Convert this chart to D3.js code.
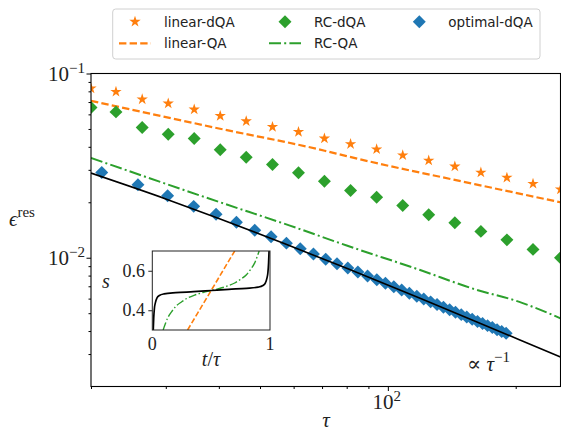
<!DOCTYPE html>
<html>
<head>
<meta charset="utf-8">
<script src="https://cdn.jsdelivr.net/npm/d3@7"></script>
<style>
  body { margin: 0; background: #fff; }
  svg { display: block; }
</style>
</head>
<body>
<div id="chart"></div>
<script>
// residual error vs annealing time, log-log, with a schedule inset

const tauDQA = [20, 22.9, 26.4, 30.4, 35.0, 40.3, 46.4, 53.5, 61.6, 70.9, 81.7, 94.1, 108.4, 124.8, 143.8, 165.6, 190.7, 219.7, 255];
const linearDQA = [0.0830, 0.0796, 0.0724, 0.0688, 0.0638, 0.0589, 0.0551, 0.0513, 0.0482, 0.0444, 0.0414, 0.0388, 0.0360, 0.0337, 0.0313, 0.0290, 0.0272, 0.0252, 0.0235];
const rcDQA = [0.0654, 0.0619, 0.0509, 0.0468, 0.0444, 0.0386, 0.0351, 0.0321, 0.0289, 0.0260, 0.0232, 0.0213, 0.0192, 0.0171, 0.0155, 0.0139, 0.0125, 0.0111, 0.0100];

const tauOpt = [21.2, 25.8, 30.3, 34.9, 39.4, 44.0, 48.6, 53.1, 57.7, 62.2, 66.8, 71.4, 75.9, 80.5, 85.0, 89.6, 94.2, 98.7, 103.3, 107.8,
  112.4, 117.0, 121.5, 126.1, 130.6, 135.2, 139.8, 144.3, 148.9, 153.4, 158.0, 162.6, 167.1, 171.7, 176.2, 180.8, 185.4, 189.9];
const optimalDQA = [0.0290, 0.0249, 0.0217, 0.0190, 0.0172, 0.0156, 0.0141, 0.0130, 0.0120, 0.0112, 0.01047, 0.00982, 0.00928, 0.00879,
  0.00836, 0.00795, 0.00759, 0.00726, 0.00696, 0.00668, 0.00642, 0.00618, 0.00597, 0.00576, 0.00557, 0.00539, 0.00522, 0.00506,
  0.00491, 0.00477, 0.00464, 0.00451, 0.00440, 0.00428, 0.00418, 0.00407, 0.00398, 0.00389];

const tauQA = [20, 40, 71, 80, 160, 255];
const linearQA = [0.0711, 0.0503, 0.0381, 0.0356, 0.0251, 0.0200];
const tauRC = [20, 40, 58.8, 80, 118.7, 160, 204, 255];
const rcQA = [0.0348, 0.0201, 0.01494, 0.01165, 0.0086, 0.00675, 0.00576, 0.00469];
const tauFit = [20, 30, 40, 57.2, 80, 118.7, 160, 204, 255];
const fitLine = [0.0288, 0.02086, 0.01634, 0.0119, 0.00876, 0.00604, 0.00454, 0.00359, 0.00289];

// inset: schedules s(t/tau)
const linSched = [[0.3, 0.3], [0.7, 0.7]];
const rcSched = [[0.092, 0.30], [0.11, 0.33], [0.13, 0.36], [0.165, 0.393], [0.2, 0.42], [0.25, 0.443], [0.3, 0.462], [0.36, 0.477],
  [0.43, 0.49], [0.5, 0.5], [0.57, 0.51], [0.64, 0.523], [0.7, 0.538], [0.75, 0.557], [0.8, 0.58], [0.835, 0.607], [0.87, 0.64],
  [0.89, 0.67], [0.908, 0.70]];
const optSched = [[0.008, 0.30], [0.012, 0.36], [0.018, 0.41], [0.027, 0.44], [0.04, 0.463], [0.06, 0.475], [0.1, 0.483], [0.2, 0.489],
  [0.35, 0.494], [0.5, 0.5], [0.65, 0.506], [0.8, 0.511], [0.9, 0.517], [0.94, 0.525], [0.96, 0.537], [0.973, 0.56], [0.982, 0.59],
  [0.988, 0.64], [0.992, 0.70]];

const orange = "#ff7f0e", green = "#2ca02c", blue = "#1f77b4";
const serif = "'Liberation Serif', 'DejaVu Serif', serif";
const sans = "'DejaVu Sans', sans-serif";

const W = 561, H = 433;
const svg = d3.select("#chart").append("svg").attr("width", W).attr("height", H);

const x = d3.scaleLog().domain([20, 255]).range([91, 560.5]);
const y = d3.scaleLog().domain([0.002, 0.1]).range([386.5, 73.5]);

svg.append("clipPath").attr("id", "plot")
  .append("rect").attr("x", 91).attr("y", 73.5).attr("width", 469.5).attr("height", 313);

const plot = svg.append("g").attr("clip-path", "url(#plot)");

const line = d3.line().x((d) => x(d[0])).y((d) => y(d[1])).curve(d3.curveMonotoneX);
const zip = (a, b) => a.map((v, i) => [v, b[i]]);

const star = d3.symbol().type(d3.symbolStar).size(40);
const diamond = d3.symbol().type(d3.symbolSquare).size(84);

// linear-dQA
plot.append("g").selectAll("path").data(zip(tauDQA, linearDQA)).join("path")
  .attr("d", star).attr("fill", orange)
  .attr("transform", (d) => `translate(${x(d[0])},${y(d[1])})`);
// linear-QA
plot.append("path").attr("d", line(zip(tauQA, linearQA)))
  .attr("fill", "none").attr("stroke", orange).attr("stroke-width", 2.2).attr("stroke-dasharray", "7.4,3.2");
// RC-dQA
plot.append("g").selectAll("path").data(zip(tauDQA, rcDQA)).join("path")
  .attr("d", diamond).attr("fill", green)
  .attr("transform", (d) => `translate(${x(d[0])},${y(d[1])}) rotate(45)`);
// RC-QA
plot.append("path").attr("d", line(zip(tauRC, rcQA)))
  .attr("fill", "none").attr("stroke", green).attr("stroke-width", 2).attr("stroke-dasharray", "12,3.2,2,3.2");
// optimal-dQA
plot.append("g").selectAll("path").data(zip(tauOpt, optimalDQA)).join("path")
  .attr("d", diamond).attr("fill", blue)
  .attr("transform", (d) => `translate(${x(d[0])},${y(d[1])}) rotate(45)`);
// ~ 1/tau guide
plot.append("path").attr("d", line(zip(tauFit, fitLine)))
  .attr("fill", "none").attr("stroke", "#000").attr("stroke-width", 1.6);

// axes
const xMajor = [100];
const xMinor = [20, 30, 40, 50, 60, 70, 80, 90, 200];
const yMajor = [0.01, 0.1];
const yMinor = [0.003, 0.004, 0.005, 0.006, 0.007, 0.008, 0.009, 0.02, 0.03, 0.04, 0.05, 0.06, 0.07, 0.08, 0.09];

const gx = svg.append("g").attr("transform", "translate(0,386.5)");
gx.call(d3.axisBottom(x).tickValues(xMinor).tickSize(2.5).tickFormat(""));
gx.append("g").call(d3.axisBottom(x).tickValues(xMajor).tickSize(4.5).tickFormat(""));
gx.selectAll(".domain").remove();

const gy = svg.append("g").attr("transform", "translate(91,0)");
gy.call(d3.axisLeft(y).tickValues(yMinor).tickSize(2.5).tickFormat(""));
gy.append("g").call(d3.axisLeft(y).tickValues(yMajor).tickSize(4.5).tickFormat(""));
gy.selectAll(".domain").remove();
svg.selectAll(".tick line").attr("stroke", "#000").attr("stroke-width", 1);

svg.append("rect").attr("x", 91).attr("y", 73.5).attr("width", 469.5).attr("height", 313)
  .attr("fill", "none").attr("stroke", "#000").attr("stroke-width", 1.1);

// tick labels
const yLab = svg.append("g").attr("font-family", serif).attr("fill", "#222");
yMajor.forEach((v) => {
  const t = yLab.append("text").attr("x", 85).attr("y", y(v) + 7.5).attr("text-anchor", "end").attr("font-size", 21);
  t.append("tspan").text("10");
  t.append("tspan").attr("dy", -8).attr("font-size", 15).text("\u2212" + (-Math.log10(v)).toFixed(0));
});
xMajor.forEach((v) => {
  const t = svg.append("text").attr("x", x(v) - 1).attr("y", 409).attr("text-anchor", "middle")
    .attr("font-family", serif).attr("font-size", 21).attr("fill", "#222");
  t.append("tspan").text("10");
  t.append("tspan").attr("dy", -8).attr("font-size", 15).text(Math.log10(v).toFixed(0));
});

// axis labels
const yl = svg.append("text").attr("x", 9).attr("y", 226).attr("font-family", serif).attr("font-size", 21).attr("fill", "#222");
yl.append("tspan").attr("font-style", "italic").text("\u03f5");
yl.append("tspan").attr("dy", -9).attr("font-size", 15).text("res");
svg.append("text").attr("x", 326).attr("y", 427).attr("text-anchor", "middle").attr("font-family", serif)
  .attr("font-style", "italic").attr("font-size", 21).attr("fill", "#222").text("\u03c4");

const prop = svg.append("text").attr("x", 467).attr("y", 371).attr("font-family", serif).attr("font-size", 21).attr("fill", "#222");
prop.append("tspan").text("\u221d ");
prop.append("tspan").attr("font-style", "italic").text("\u03c4");
prop.append("tspan").attr("dy", -9).attr("font-size", 15).text("\u22121");

// inset
const xi = d3.scaleLinear().domain([0, 1]).range([152.3, 270]);
const yi = d3.scaleLinear().domain([0.3, 0.7]).range([330, 251]);
const inset = svg.append("g");
inset.append("rect").attr("x", 152.3).attr("y", 251).attr("width", 117.7).attr("height", 79).attr("fill", "#fff");
svg.append("clipPath").attr("id", "inset")
  .append("rect").attr("x", 152.3).attr("y", 251).attr("width", 117.7).attr("height", 79);
const ig = inset.append("g").attr("clip-path", "url(#inset)");
const iline = d3.line().x((d) => xi(d[0])).y((d) => yi(d[1])).curve(d3.curveMonotoneX);
ig.append("path").attr("d", iline(linSched)).attr("fill", "none").attr("stroke", orange)
  .attr("stroke-width", 1.6).attr("stroke-dasharray", "5.5,2.4");
ig.append("path").attr("d", iline(rcSched)).attr("fill", "none").attr("stroke", green)
  .attr("stroke-width", 1.4).attr("stroke-dasharray", "8,2.4,1.5,2.4");
ig.append("path").attr("d", iline(optSched)).attr("fill", "none").attr("stroke", "#000").attr("stroke-width", 1.7);
inset.append("rect").attr("x", 152.3).attr("y", 251).attr("width", 117.7).attr("height", 79)
  .attr("fill", "none").attr("stroke", "#222").attr("stroke-width", 1);

const giy = inset.append("g").attr("transform", "translate(152.3,0)")
  .call(d3.axisLeft(yi).tickValues([0.4, 0.6]).tickSize(4).tickFormat(""));
giy.selectAll(".domain").remove();
giy.selectAll(".tick line").attr("stroke", "#222");
[0.4, 0.6].forEach((v) => {
  inset.append("text").attr("x", 145).attr("y", yi(v) + 6).attr("text-anchor", "end")
    .attr("font-family", serif).attr("font-size", 18).attr("fill", "#222").text(v.toFixed(1));
});
[0, 1].forEach((v) => {
  inset.append("text").attr("x", xi(v)).attr("y", 350).attr("text-anchor", "middle")
    .attr("font-family", serif).attr("font-size", 18).attr("fill", "#222").text(v);
});
inset.append("text").attr("x", 106).attr("y", 288).attr("text-anchor", "middle")
  .attr("font-family", serif).attr("font-style", "italic").attr("font-size", 20).attr("fill", "#222").text("s");
const tl = inset.append("text").attr("x", 211).attr("y", 366).attr("text-anchor", "middle")
  .attr("font-family", serif).attr("font-size", 20).attr("fill", "#222");
tl.append("tspan").attr("font-style", "italic").text("t");
tl.append("tspan").text("/");
tl.append("tspan").attr("font-style", "italic").text("\u03c4");

// legend
const lg = svg.append("g").attr("font-family", sans).attr("font-size", 13.5).attr("fill", "#222");
lg.append("rect").attr("x", 112.7).attr("y", 9).attr("width", 427.3).attr("height", 50).attr("rx", 3)
  .attr("fill", "#fff").attr("fill-opacity", 0.8).attr("stroke", "#d0d0d0");
const entries = [
  { label: "linear-dQA", kind: "star", color: orange, cx: 135, row: 0 },
  { label: "linear-QA", kind: "dash", color: orange, cx: 135, row: 1 },
  { label: "RC-dQA", kind: "diamond", color: green, cx: 285, row: 0 },
  { label: "RC-QA", kind: "dashdot", color: green, cx: 285, row: 1 },
  { label: "optimal-dQA", kind: "diamond", color: blue, cx: 419.3, row: 0 }
];
entries.forEach((e) => {
  const ry = e.row === 0 ? 21.7 : 43.3;
  if (e.kind === "star") {
    lg.append("path").attr("d", star).attr("fill", e.color).attr("transform", `translate(${e.cx},${ry})`);
  } else if (e.kind === "diamond") {
    lg.append("path").attr("d", diamond).attr("fill", e.color).attr("transform", `translate(${e.cx},${ry}) rotate(45)`);
  } else {
    lg.append("line").attr("x1", e.cx - 16).attr("x2", e.cx + 16).attr("y1", ry).attr("y2", ry)
      .attr("stroke", e.color).attr("stroke-width", e.kind === "dash" ? 2.2 : 2)
      .attr("stroke-dasharray", e.kind === "dash" ? "7.4,3.2" : "12,3.2,2,3.2");
  }
  lg.append("text").attr("x", e.cx + 29).attr("y", ry + 5).text(e.label);
});
</script>
</body>
</html>
